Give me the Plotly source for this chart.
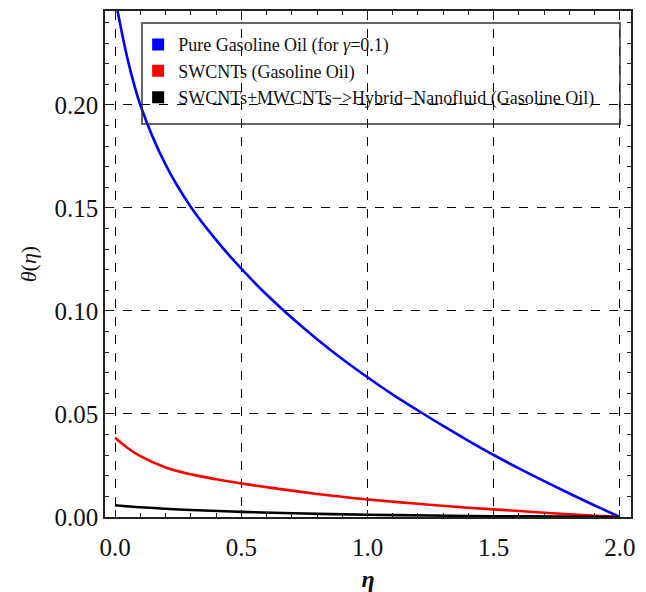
import plotly.graph_objects as go

# Data
eta_blue = [0, 0.05, 0.1, 0.2, 0.3, 0.4, 0.5, 0.6, 0.7, 0.8, 0.9, 1.0, 1.1, 1.2, 1.3, 1.4, 1.5, 1.6, 1.7, 1.8, 1.9, 2.0]
theta_blue = [0.252, 0.222, 0.200, 0.171, 0.1505, 0.1345, 0.1205, 0.108, 0.0967, 0.0863, 0.0767, 0.0678, 0.0594,
              0.0517, 0.0442, 0.0370, 0.0301, 0.0236, 0.0174, 0.0114, 0.0056, 0.0]

eta_red = [0, 0.05, 0.1, 0.2, 0.3, 0.4, 0.5, 0.6, 0.7, 0.8, 0.9, 1.0, 1.2, 1.4, 1.5, 1.6, 1.8, 2.0]
theta_red = [0.0385, 0.0335, 0.0295, 0.0240, 0.0207, 0.0183, 0.0163, 0.0145, 0.0128, 0.0112, 0.0098, 0.0085,
             0.0064, 0.0045, 0.0037, 0.0029, 0.0013, 0.0]

eta_black = [0, 0.1, 0.2, 0.3, 0.5, 0.75, 1.0, 1.25, 1.5, 1.75, 2.0]
theta_black = [0.0057, 0.0047, 0.0040, 0.0034, 0.0025, 0.0017, 0.0011, 0.0007, 0.0004, 0.0002, 0.0]

names = ["Pure Gasoline Oil (for <i>γ</i>=0.1)",
         "SWCNTs (Gasoline Oil)",
         "SWCNTs+MWCNTs−>Hybrid−Nanofluid (Gasoline Oil)"]
colors = ["#0000ff", "#ff0000", "#000000"]

x_ticks = [0.0, 0.5, 1.0, 1.5, 2.0]
x_tick_labels = ["0.0", "0.5", "1.0", "1.5", "2.0"]
y_ticks = [0.0, 0.05, 0.10, 0.15, 0.20]
y_tick_labels = ["0.00", "0.05", "0.10", "0.15", "0.20"]

SERIF = "Liberation Serif, Times New Roman, serif"

fig = go.Figure()
series = [(eta_blue, theta_blue), (eta_red, theta_red), (eta_black, theta_black)]
for (xs, ys), c in zip(series, colors):
    fig.add_trace(go.Scatter(x=xs, y=ys, mode="lines", line=dict(color=c, width=2.6, shape="spline"),
                             showlegend=False, cliponaxis=True))
for n, c in zip(names, colors):
    fig.add_trace(go.Scatter(x=[None], y=[None], mode="markers", name=n,
                             marker=dict(symbol="square", size=12, color=c)))

axis_common = dict(
    automargin=False,
    showline=True, linecolor="#222", linewidth=1.5, mirror="allticks",
    ticks="inside", ticklen=7, tickwidth=1.2, tickcolor="#222",
    showgrid=True, gridcolor="#000", griddash="dash", gridwidth=1.2,
    zeroline=False,
    tickfont=dict(family=SERIF, size=25, color="#111"),
)

fig.update_xaxes(
    **axis_common, range=[-0.04, 2.044], tickvals=x_ticks, ticktext=x_tick_labels,
    ticklabelstandoff=7,
    minor=dict(ticks="inside", dtick=0.1, tick0=0, ticklen=4, tickcolor="#222", tickwidth=1, showgrid=False),
    title=dict(text="<i><b>η</b></i>", font=dict(family=SERIF, size=24, color="#111"), standoff=12),
)
fig.update_yaxes(
    **axis_common, range=[0, 0.2456], tickvals=y_ticks, ticktext=y_tick_labels,
    minor=dict(ticks="inside", dtick=0.01, tick0=0, ticklen=4, tickcolor="#222", tickwidth=1, showgrid=False),
    title=dict(text="<i>θ</i>(<i>η</i>)", font=dict(family=SERIF, size=22, color="#111"), standoff=12),
)

fig.update_layout(
    width=646, height=592,
    margin=dict(l=105, r=15, t=11, b=75),
    paper_bgcolor="white", plot_bgcolor="white",
    legend=dict(x=0.063, y=0.970, xanchor="left", yanchor="top",
                bgcolor="rgba(0,0,0,0)", borderwidth=0,
                font=dict(family=SERIF, size=18, color="#111"),
                itemsizing="constant", tracegroupgap=0),
    shapes=[dict(type="rect", xref="paper", yref="paper",
                 x0=(142 - 105) / 526, x1=(620 - 105) / 526,
                 y0=(517 - 124) / 506, y1=(517 - 23) / 506,
                 line=dict(color="#333", width=1.5), fillcolor="rgba(0,0,0,0)", layer="above")],
)

fig.write_html("out.html", config={"displayModeBar": False},
               post_script="document.body.style.margin='0px';")
